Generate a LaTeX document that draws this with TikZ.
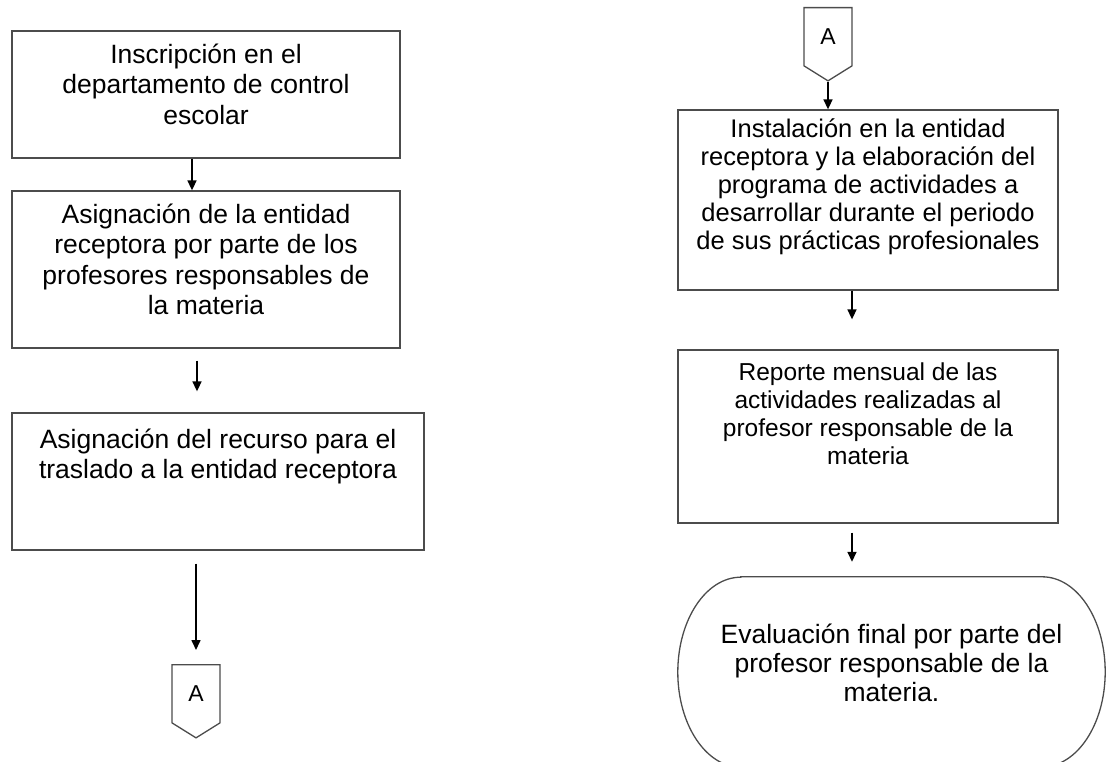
\documentclass[tikz,border=0pt]{standalone}
\usepackage{fontspec}
\setmainfont{Liberation Sans}
\usetikzlibrary{arrows.meta, positioning, shapes.symbols, calc}

\begin{document}
\begin{tikzpicture}[
  x=1pt, y=-1pt,
  outline/.style={draw=black!70, line width=1.3pt},
  box/.style={outline, minimum width=388pt, minimum height=127pt, inner sep=0pt},
  txt/.style={anchor=north, align=center, inner sep=0pt, font=\fontsize{26.5}{30.5}\selectfont},
  txtsm/.style={txt, font=\fontsize{24.5}{28}\selectfont},
  offpage/.style={outline, shape=signal, signal to=south, signal pointer angle=116,
    minimum width=48pt, minimum height=63pt, inner sep=0pt, font=\fontsize{23}{26}\selectfont},
  arrow/.style={-{Triangle[width=9pt,length=10pt]}, line width=1.6pt}
]
\useasboundingbox (0,0) rectangle (1106,762);
\clip (0,0) rectangle (1106,762);

% left column
\node[box, label={[txt, yshift=-13pt]north:{Inscripción en el\\departamento de control\\escolar}}] (insc) at (206,94.5) {};
\node[box, minimum height=157pt, label={[txt, yshift=-13pt]north:{Asignación de la entidad\\receptora por parte de los\\profesores responsables de\\la materia}}] (asig) at (206,269.5) {};
\node[box, minimum width=412pt, minimum height=137pt, label={[txt, yshift=-16pt]north:{Asignación del recurso para el\\traslado a la entidad receptora}}] (recurso) at (218,481.5) {};
\node[offpage, anchor=north] (aout) at (196,664) {A};

% right column
\node[offpage, anchor=north] (ain) at (828,7) {A};
\node[box, minimum width=380pt, minimum height=180pt, label={[txt, font=\fontsize{25.5}{28}\selectfont, yshift=-9pt]north:{Instalación en la entidad\\receptora y la elaboración del\\programa de actividades a\\desarrollar durante el periodo\\de sus prácticas profesionales}}] (inst) at (868,200) {};
\node[box, minimum width=380pt, minimum height=173pt, label={[txtsm, yshift=-13pt]north:{Reporte mensual de las\\actividades realizadas al\\profesor responsable de la\\materia}}] (rep) at (868,436.5) {};
\node[minimum width=427pt, minimum height=190pt, inner sep=0pt, label={[txt, font=\fontsize{26.5}{29}\selectfont, yshift=-47pt]north:{Evaluación final por parte del\\profesor responsable de la\\materia.}}] (eval) at (891.5,672) {};
\draw[outline] ([xshift=63pt]eval.north west) -- ([xshift=-63pt]eval.north east)
  arc[start angle=90, end angle=-90, x radius=63pt, y radius=95pt]
  -- ([xshift=63pt]eval.south west)
  arc[start angle=270, end angle=90, x radius=63pt, y radius=95pt] -- cycle;

% connectors
\draw[arrow] ([xshift=-14pt]insc.south) -- ([xshift=-14pt]asig.north);
\draw[arrow, shorten <=12pt, shorten >=21pt] ([xshift=-9pt]asig.south) -- ([xshift=-9pt]asig.south |- recurso.north);
\draw[arrow, shorten <=13pt, shorten >=14pt] (recurso.south -| aout.north) -- (aout.north);
\draw[arrow] (ain.south) -- (ain.south |- inst.north);
\draw[arrow, shorten >=30pt] ([xshift=-16pt]inst.south) -- ([xshift=-16pt]rep.north);
\draw[arrow, shorten <=9pt, shorten >=15pt] ([xshift=-16pt]rep.south) -- ([xshift=-16pt]rep.south |- eval.north);
\end{tikzpicture}
\end{document}
